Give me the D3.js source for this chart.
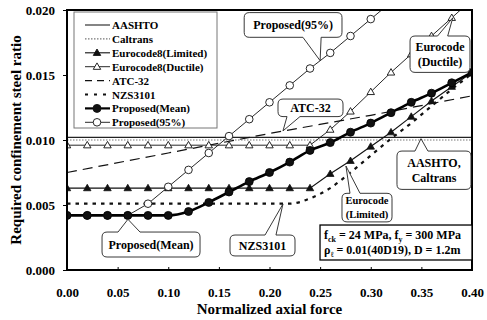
<!DOCTYPE html>
<html>
<head>
<meta charset="utf-8">
<script src="https://cdn.jsdelivr.net/npm/d3@7"></script>
<style>
  body { margin: 0; background: #fff; }
  svg { font-family: "Liberation Serif", "Times New Roman", "DejaVu Serif", serif; font-weight: bold; }
</style>
</head>
<body>
<svg id="chart" width="487" height="320"></svg>
<script>
// normalized axial force, every 0.02
const xs = [0, 0.02, 0.04, 0.06, 0.08, 0.10, 0.12, 0.14, 0.16, 0.18, 0.20,
            0.22, 0.24, 0.26, 0.28, 0.30, 0.32, 0.34, 0.36, 0.38, 0.40];

const aashto = [[0, 0.0102], [0.40, 0.0102]];
const caltrans = [[0, 0.0100], [0.40, 0.0100]];
const ec8Limited = [0.0063, 0.0063, 0.0063, 0.0063, 0.0063, 0.0063, 0.0063, 0.0063, 0.0063, 0.0063, 0.0063,
                    0.0063, 0.0063, 0.0074, 0.0084, 0.0095, 0.0106, 0.0118, 0.0130, 0.0141, 0.0152];
const ec8Ductile = [0.0096, 0.0096, 0.0096, 0.0096, 0.0096, 0.0096, 0.0096, 0.0096, 0.0096, 0.0096, 0.0096,
                    0.0096, 0.0096, 0.0108, 0.0122, 0.0137, 0.0152, 0.0166, 0.0180, 0.0194, 0.0208];
const atc32 = [[0, 0.0075], [0.10, 0.0090], [0.20, 0.0105], [0.30, 0.0119], [0.40, 0.0134]];
const nzs3101 = [0.0051, 0.0051, 0.0051, 0.0051, 0.0051, 0.0051, 0.0051, 0.0051, 0.0051, 0.0051, 0.0051,
                 0.0051, 0.0055, 0.0063, 0.0075, 0.0088, 0.0101, 0.0113, 0.0126, 0.0139, 0.0151];
const propMean = [0.0042, 0.0042, 0.0042, 0.0042, 0.0042, 0.0042, 0.0045, 0.0052, 0.0060, 0.0068, 0.0075,
                  0.0083, 0.0092, 0.0098, 0.0106, 0.0113, 0.0121, 0.0129, 0.0136, 0.0144, 0.0152];
const prop95 = [0.0042, 0.0042, 0.0042, 0.0042, 0.0051, 0.0064, 0.0077, 0.0090, 0.0103, 0.0116, 0.0129,
                0.0142, 0.0155, 0.0167, 0.0180, 0.0193, 0.0206];

const xTicks = [0, 0.05, 0.10, 0.15, 0.20, 0.25, 0.30, 0.35, 0.40];
const yTicks = [0, 0.005, 0.010, 0.015, 0.020];

const legendNames = ["AASHTO", "Caltrans", "Eurocode8(Limited)", "Eurocode8(Ductile)",
                     "ATC-32", "NZS3101", "Proposed(Mean)", "Proposed(95%)"];

// callouts: box corners, pointer side, pointer base and tip (all in data units)
const callouts = [
  { lines: ["Proposed(95%)"], box: [0.175, 0.0198, 0.2716, 0.0179], side: "bottom", base: [0.233, 0.251], tip: [0.250, 0.0161], size: 12 },
  { lines: ["Eurocode", "(Ductile)"], box: [0.3388, 0.0180, 0.398, 0.0152], side: "top", base: [0.366, 0.376], tip: [0.381, 0.0194], size: 12 },
  { lines: ["ATC-32"], box: [0.2084, 0.01315, 0.2726, 0.0118], side: "bottom", base: [0.2173, 0.2301], tip: [0.2133, 0.0107], size: 12 },
  { lines: ["AASHTO,", "Caltrans"], box: [0.3259, 0.00915, 0.399, 0.0062], side: "top", base: [0.3437, 0.3565], tip: [0.3496, 0.0101], size: 12 },
  { lines: ["Eurocode", "(Limited)"], box: [0.2716, 0.0059, 0.321, 0.0037], side: "top", base: [0.2795, 0.2894], tip: [0.2755, 0.0080], size: 10.5 },
  { lines: ["NZS3101"], box: [0.161, 0.00269, 0.2252, 0.00108], side: "top", base: [0.1956, 0.2064], tip: [0.2133, 0.00508], size: 12 },
  { lines: ["Proposed(Mean)"], box: [0.0346, 0.00292, 0.1314, 0.0010], side: "top", base: [0.0504, 0.0721], tip: [0.0602, 0.0039], size: 12 }
];

const svg = d3.select("#chart");
const margin = { left: 67, right: 15, top: 10, bottom: 50 };
const W = 487, H = 320;

const x = d3.scaleLinear().domain([0, 0.40]).range([margin.left, W - margin.right]);
const y = d3.scaleLinear().domain([0, 0.020]).range([H - margin.bottom, margin.top]);

svg.append("clipPath").attr("id", "plotClip")
  .append("rect")
  .attr("x", x(0)).attr("y", y(0.02))
  .attr("width", x(0.4) - x(0)).attr("height", y(0) - y(0.02));

// axes
const xAxis = svg.append("g")
  .attr("transform", `translate(0,${y(0)})`)
  .call(d3.axisBottom(x).tickValues(xTicks).tickFormat(d3.format(".2f"))
    .tickSizeInner(-3).tickSizeOuter(0).tickPadding(18));
const yAxis = svg.append("g")
  .attr("transform", `translate(${x(0)},0)`)
  .call(d3.axisLeft(y).tickValues(yTicks).tickFormat(d3.format(".3f"))
    .tickSizeInner(4).tickSizeOuter(0).tickPadding(8));
[xAxis, yAxis].forEach(a => {
  a.attr("font-family", null).attr("font-size", null);
  a.select(".domain").remove();
  a.selectAll("text").attr("font-size", 13).attr("fill", "#000");
  a.selectAll("line").attr("stroke", "#000");
});

svg.append("text")
  .attr("x", (x(0) + x(0.4)) / 2).attr("y", 314)
  .attr("text-anchor", "middle").attr("font-size", 15)
  .text("Normalized axial force");
svg.append("text")
  .attr("transform", `translate(21,${(y(0) + y(0.02)) / 2}) rotate(-90)`)
  .attr("text-anchor", "middle").attr("font-size", 15)
  .text("Required confinement steel ratio");

// data
const plot = svg.append("g").attr("clip-path", "url(#plotClip)");
const line = d3.line().x(d => x(d[0])).y(d => y(d[1]));
const zipX = arr => arr.map((v, i) => [xs[i], v]);

const styles = {
  aashto:   { stroke: "#222", width: 1.1, dash: null },
  caltrans: { stroke: "#777", width: 1.1, dash: "1.5,1.5" },
  limited:  { stroke: "#111", width: 1.1, dash: null },
  ductile:  { stroke: "#111", width: 0.9, dash: null },
  atc:      { stroke: "#111", width: 1.2, dash: "10,6" },
  nzs:      { stroke: "#111", width: 2.2, dash: "3.5,5" },
  mean:     { stroke: "#000", width: 2.6, dash: null },
  p95:      { stroke: "#111", width: 0.9, dash: null }
};

function drawLine(data, st, curve) {
  plot.append("path")
    .datum(data)
    .attr("fill", "none")
    .attr("stroke", st.stroke)
    .attr("stroke-width", st.width)
    .attr("stroke-dasharray", st.dash)
    .attr("d", line.curve(curve || d3.curveLinear)(data));
}

const tri = d3.symbol().type(d3.symbolTriangle).size(24);

drawLine(caltrans, styles.caltrans);
drawLine(aashto, styles.aashto);
drawLine(atc32, styles.atc);
drawLine(zipX(nzs3101), styles.nzs, d3.curveMonotoneX);
drawLine(zipX(ec8Limited), styles.limited);
drawLine(zipX(ec8Ductile), styles.ductile);
drawLine(zipX(prop95), styles.p95);
drawLine(zipX(propMean), styles.mean, d3.curveMonotoneX);

plot.append("g").selectAll("path")
  .data(zipX(ec8Ductile)).join("path")
  .attr("transform", d => `translate(${x(d[0])},${y(d[1]) + 0.5})`)
  .attr("d", tri).attr("fill", "#fff").attr("stroke", "#111").attr("stroke-width", 0.9);
plot.append("g").selectAll("path")
  .data(zipX(ec8Limited)).join("path")
  .attr("transform", d => `translate(${x(d[0])},${y(d[1]) + 0.5})`)
  .attr("d", tri).attr("fill", "#111").attr("stroke", "#111").attr("stroke-width", 0.8);
plot.append("g").selectAll("circle")
  .data(zipX(prop95)).join("circle")
  .attr("cx", d => x(d[0])).attr("cy", d => y(d[1])).attr("r", 3.8)
  .attr("fill", "#fff").attr("stroke", "#111").attr("stroke-width", 0.9);
plot.append("g").selectAll("circle")
  .data(zipX(propMean)).join("circle")
  .attr("cx", d => x(d[0])).attr("cy", d => y(d[1])).attr("r", 4)
  .attr("fill", "#111").attr("stroke", "#000").attr("stroke-width", 0.8);

// frame
svg.append("rect")
  .attr("x", x(0)).attr("y", y(0.02))
  .attr("width", x(0.4) - x(0)).attr("height", y(0) - y(0.02))
  .attr("fill", "none").attr("stroke", "#000").attr("stroke-width", 2);

// legend
const leg = svg.append("g");
leg.append("rect").attr("x", 74).attr("y", 12).attr("width", 143).attr("height", 116)
  .attr("fill", "#fff").attr("stroke", "#777").attr("stroke-width", 1);
const legStyles = [styles.aashto, styles.caltrans, styles.limited, styles.ductile,
                   styles.atc, styles.nzs, styles.mean, styles.p95];
const legMarks = [null, null, "tri-fill", "tri-open", null, null, "dot-fill", "dot-open"];
legendNames.forEach((name, i) => {
  const ly = 25 + i * 13.9;
  const st = legStyles[i];
  leg.append("line").attr("x1", 85).attr("x2", 110).attr("y1", ly).attr("y2", ly)
    .attr("stroke", st.stroke).attr("stroke-width", Math.min(st.width, 2.2))
    .attr("stroke-dasharray", name === "ATC-32" ? "7,5" : (name === "NZS3101" ? "3,6" : st.dash));
  const m = legMarks[i];
  if (m && m.startsWith("tri")) {
    leg.append("path").attr("transform", `translate(97,${ly + 0.5})`).attr("d", tri)
      .attr("fill", m === "tri-fill" ? "#111" : "#fff").attr("stroke", "#111").attr("stroke-width", 0.9);
  } else if (m) {
    leg.append("circle").attr("cx", 97).attr("cy", ly).attr("r", m === "dot-fill" ? 4 : 3.8)
      .attr("fill", m === "dot-fill" ? "#111" : "#fff").attr("stroke", "#111").attr("stroke-width", 0.9);
  }
  leg.append("text").attr("x", 112).attr("y", ly + 4).attr("font-size", 11).text(name);
});

// callouts
function calloutPath(c) {
  const x0 = x(c.box[0]), y0 = y(c.box[1]), x1 = x(c.box[2]), y1 = y(c.box[3]);
  const a = x(c.base[0]), b = x(c.base[1]), tx = x(c.tip[0]), ty = y(c.tip[1]);
  const r = 5;
  let p = `M${x0 + r},${y0}`;
  if (c.side === "top") p += `L${a},${y0}L${tx},${ty}L${b},${y0}`;
  p += `L${x1 - r},${y0}Q${x1},${y0} ${x1},${y0 + r}L${x1},${y1 - r}Q${x1},${y1} ${x1 - r},${y1}`;
  if (c.side === "bottom") p += `L${b},${y1}L${tx},${ty}L${a},${y1}`;
  p += `L${x0 + r},${y1}Q${x0},${y1} ${x0},${y1 - r}L${x0},${y0 + r}Q${x0},${y0} ${x0 + r},${y0}Z`;
  return p;
}
const co = svg.append("g");
callouts.forEach(c => {
  co.append("path").attr("d", calloutPath(c))
    .attr("fill", "#fff").attr("stroke", "#222").attr("stroke-width", 0.9);
  const cx = (x(c.box[0]) + x(c.box[2])) / 2;
  const cy = (y(c.box[1]) + y(c.box[3])) / 2;
  const lh = c.size * 1.3;
  c.lines.forEach((t, i) => {
    co.append("text").attr("x", cx)
      .attr("y", cy + (i - (c.lines.length - 1) / 2) * lh + c.size * 0.35)
      .attr("text-anchor", "middle").attr("font-size", c.size).text(t);
  });
});

// material parameters box
const pb = svg.append("g");
pb.append("rect").attr("x", x(0.2499)).attr("y", y(0.00346))
  .attr("width", x(0.4) - x(0.2499)).attr("height", y(0.00077) - y(0.00346))
  .attr("fill", "#fff").attr("stroke", "#000").attr("stroke-width", 1.3);
const t1 = pb.append("text").attr("x", x(0.2499) + 4).attr("y", y(0.00346) + 14).attr("font-size", 12);
t1.append("tspan").text("f");
t1.append("tspan").attr("font-size", 8).attr("dy", 3).text("ck");
t1.append("tspan").attr("dy", -3).text(" = 24 MPa, f");
t1.append("tspan").attr("font-size", 8).attr("dy", 3).text("y");
t1.append("tspan").attr("dy", -3).text(" = 300 MPa");
const t2 = pb.append("text").attr("x", x(0.2499) + 4).attr("y", y(0.00346) + 29).attr("font-size", 12);
t2.append("tspan").text("ρ");
t2.append("tspan").attr("font-size", 8).attr("dy", 3).text("ℓ");
t2.append("tspan").attr("dy", -3).text(" = 0.01(40D19),  D = 1.2m");
</script>
</body>
</html>
